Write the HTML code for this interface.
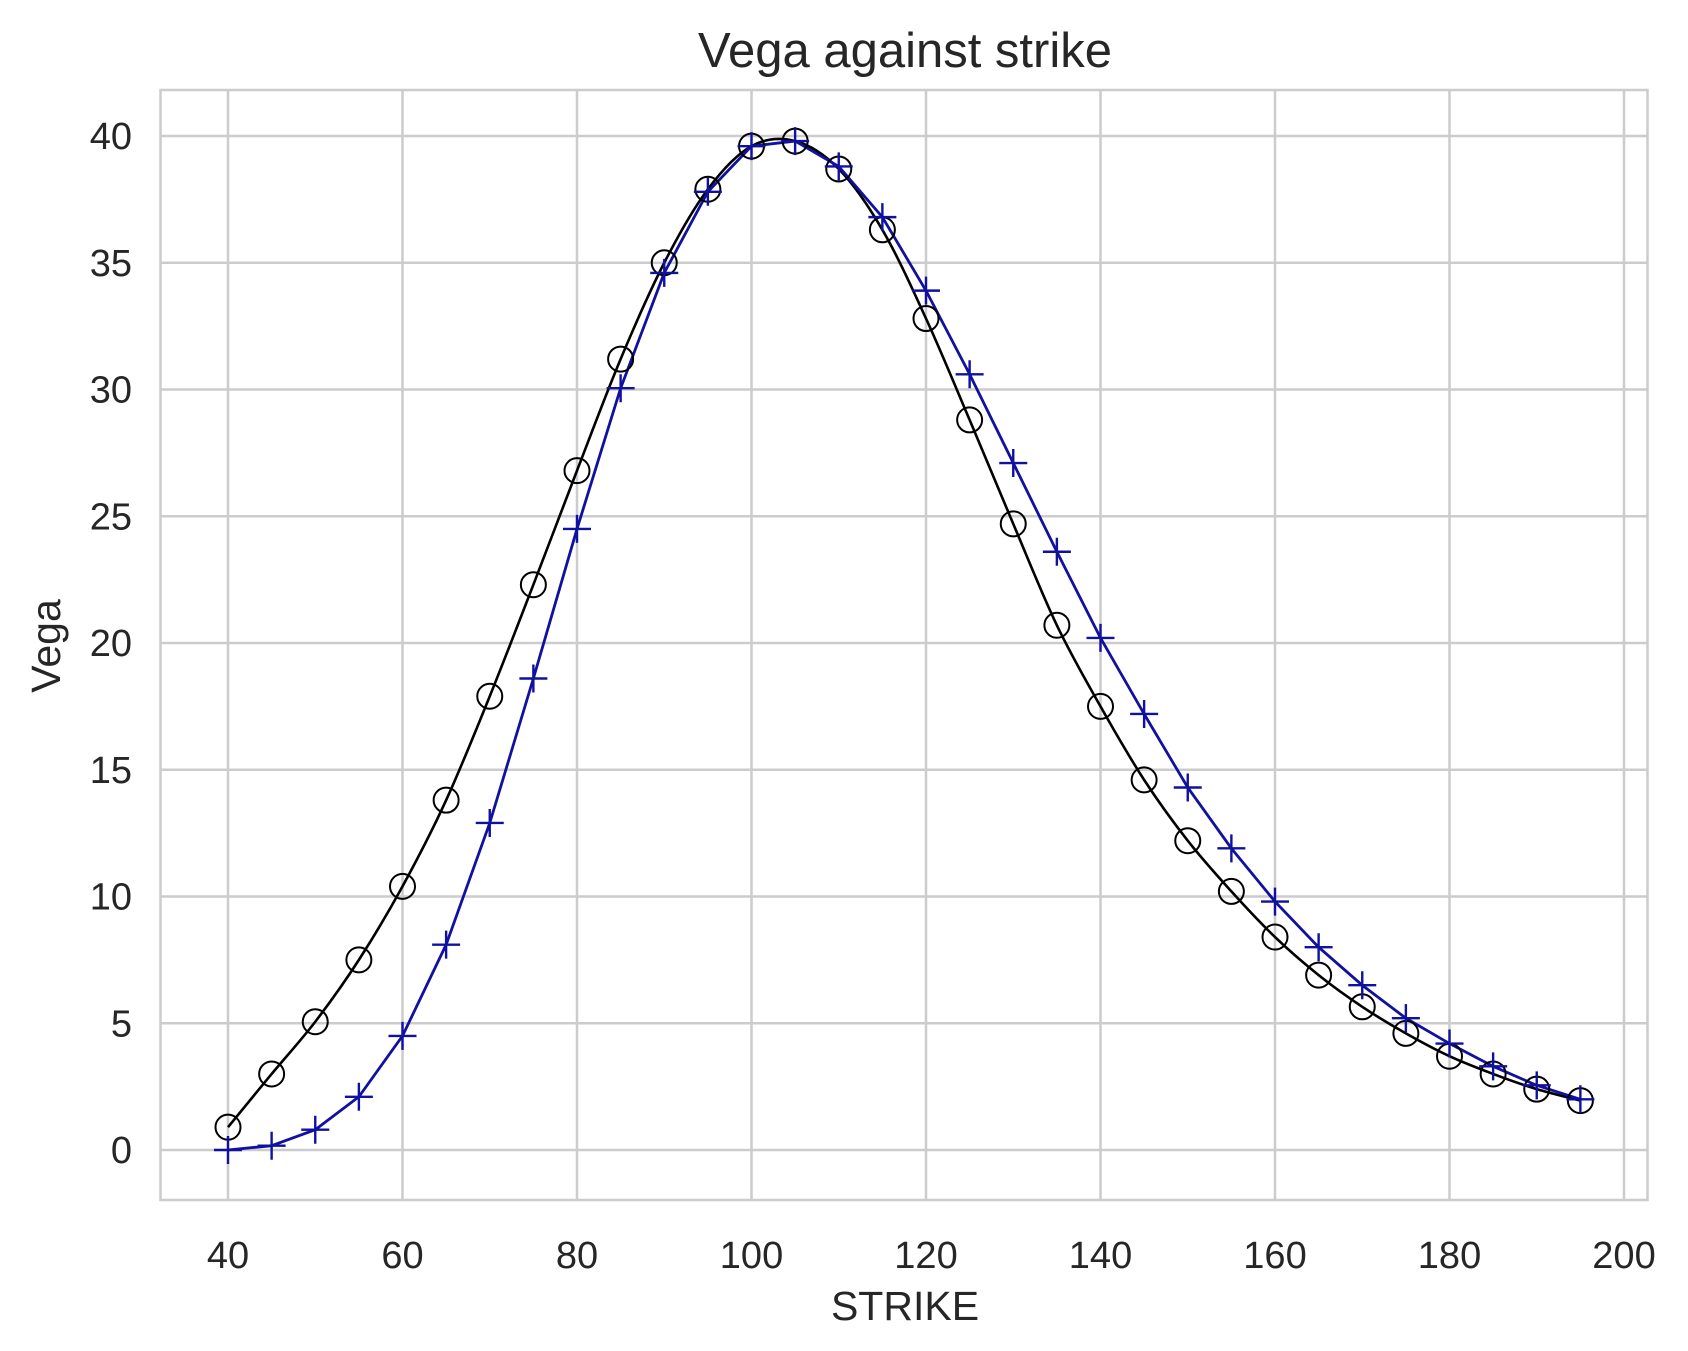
<!DOCTYPE html>
<html><head><meta charset="utf-8"><style>
html,body{margin:0;padding:0;background:#fff;}
svg{display:block;font-family:"Liberation Sans",Arial,sans-serif;}
</style></head><body>
<svg id="c" width="1688" height="1351" viewBox="0 0 1688 1351" xmlns="http://www.w3.org/2000/svg">
<rect width="1688" height="1351" fill="#fff"/>
<g id="grid"></g>
<rect x="160.5" y="90" width="1487" height="1110" fill="none" stroke="#cccccc" stroke-width="2.5"/>
<g id="ticks" fill="#262626" font-size="38"></g>
<g id="data"></g>
<text x="905" y="67" text-anchor="middle" font-size="49" fill="#262626">Vega against strike</text>
<text x="905" y="1320" text-anchor="middle" font-size="41" fill="#262626">STRIKE</text>
<text transform="translate(60,646) rotate(-90)" text-anchor="middle" font-size="41" fill="#262626">Vega</text>
</svg>
<script>
var NS="http://www.w3.org/2000/svg";
function X(v){return 228+(v-40)*(1624-228)/160;}
function Y(v){return 1150-v*(1150-136)/40;}
function el(t,a,p,txt){var e=document.createElementNS(NS,t);for(var k in a)e.setAttribute(k,a[k]);if(txt!==undefined)e.textContent=txt;p.appendChild(e);return e;}
var g=document.getElementById('grid'),tk=document.getElementById('ticks'),d=document.getElementById('data');
for(var v=40;v<=200;v+=20){var x=X(v);el('line',{x1:x,x2:x,y1:90,y2:1200,stroke:'#cccccc','stroke-width':2.5},g);el('text',{x:x,y:1268,'text-anchor':'middle'},tk,String(v));}
for(var v=0;v<=40;v+=5){var y=Y(v);el('line',{x1:160.5,x2:1647.5,y1:y,y2:y,stroke:'#cccccc','stroke-width':2.5},g);el('text',{x:132,y:y+13,'text-anchor':'end'},tk,String(v));}
var bk=[0.9,3.0,5.06,7.5,10.4,13.8,17.9,22.3,26.8,31.2,35.0,37.9,39.6,39.8,38.7,36.3,32.8,28.8,24.7,20.7,17.5,14.6,12.2,10.2,8.4,6.9,5.65,4.6,3.7,3.0,2.4,1.95];
var bl=[0,0.17,0.8,2.1,4.5,8.1,12.9,18.6,24.5,30.05,34.6,37.8,39.6,39.8,38.8,36.8,33.9,30.6,27.1,23.6,20.2,17.2,14.3,11.9,9.8,8.0,6.5,5.2,4.2,3.3,2.55,2.0];
var ks=[];for(var i=0;i<32;i++)ks.push(40+5*i);
var P=ks.map(function(k,i){return [X(k),Y(bk[i])];});
var s='M'+P[0][0]+','+P[0][1];
for(var i=0;i<P.length-1;i++){var p0=P[Math.max(i-1,0)],p1=P[i],p2=P[i+1],p3=P[Math.min(i+2,P.length-1)];
s+=' C'+(p1[0]+(p2[0]-p0[0])/6)+','+(p1[1]+(p2[1]-p0[1])/6)+' '+(p2[0]-(p3[0]-p1[0])/6)+','+(p2[1]-(p3[1]-p1[1])/6)+' '+p2[0]+','+p2[1];}
el('path',{d:s,fill:'none',stroke:'#000','stroke-width':2.6},d);
var pts=ks.map(function(k,i){return X(k)+','+Y(bl[i]);}).join(' ');
el('polyline',{points:pts,fill:'none',stroke:'#1111a0','stroke-width':2.8},d);
for(var i=0;i<32;i++){var x=X(ks[i]);
el('circle',{cx:x,cy:Y(bk[i]),r:12.5,fill:'none',stroke:'#000','stroke-width':2},d);
var y=Y(bl[i]);
el('path',{d:'M'+(x-14)+','+y+'H'+(x+14)+'M'+x+','+(y-14)+'V'+(y+14),stroke:'#1111a0','stroke-width':2.4},d);}
</script>
</body></html>
